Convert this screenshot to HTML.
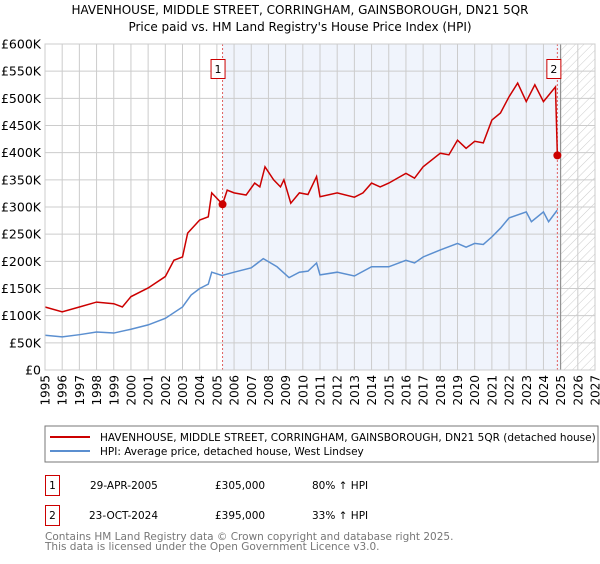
<!DOCTYPE html>
<html><head><meta charset="utf-8"><style>
body{margin:0;background:#fff;font-family:"DejaVu Sans","Liberation Sans",sans-serif}
svg text{font-family:"DejaVu Sans","Liberation Sans",sans-serif}
</style></head><body>
<svg id="c" width="600" height="560" xmlns="http://www.w3.org/2000/svg">
<defs><pattern id="hatch" width="6" height="6" patternUnits="userSpaceOnUse" patternTransform="rotate(45)"><line x1="0" y1="0" x2="0" y2="6" stroke="#ccc" stroke-width="1"/></pattern></defs>
<text x="300" y="14" text-anchor="middle" font-size="12">HAVENHOUSE, MIDDLE STREET, CORRINGHAM, GAINSBOROUGH, DN21 5QR</text>
<text x="300" y="31" text-anchor="middle" font-size="12">Price paid vs. HM Land Registry's House Price Index (HPI)</text>
<g id="plot"></g>
<rect x="45" y="426" width="553" height="36" fill="#fff" stroke="#777"/>
<line x1="50" y1="437" x2="90" y2="437" stroke="#cc0000" stroke-width="2"/>
<text x="100" y="441" font-size="10.5">HAVENHOUSE, MIDDLE STREET, CORRINGHAM, GAINSBOROUGH, DN21 5QR (detached house)</text>
<line x1="50" y1="451" x2="90" y2="451" stroke="#5b8fd0" stroke-width="2"/>
<text x="100" y="455" font-size="10.5">HPI: Average price, detached house, West Lindsey</text>
<g>
<rect x="45.5" y="475.5" width="14" height="20" fill="#fff" stroke="#cc0000"/><text x="52.5" y="489" text-anchor="middle" font-size="10.5">1</text>
<text x="90" y="489" font-size="10.5">29-APR-2005</text><text x="215" y="489" font-size="10.5">£305,000</text><text x="312" y="489" font-size="10.5">80% ↑ HPI</text></g>
<g>
<rect x="45.5" y="505.5" width="14" height="20" fill="#fff" stroke="#cc0000"/><text x="52.5" y="519" text-anchor="middle" font-size="10.5">2</text>
<text x="89" y="519" font-size="10.5">23-OCT-2024</text><text x="215" y="519" font-size="10.5">£395,000</text><text x="312" y="519" font-size="10.5">33% ↑ HPI</text></g>
<text x="45" y="540" font-size="10.5" fill="#777">Contains HM Land Registry data © Crown copyright and database right 2025.</text>
<text x="45" y="550" font-size="10.5" fill="#777">This data is licensed under the Open Government Licence v3.0.</text>
</svg>
<script>
const hpiYears=[1995,1996,1997,1998,1999,2000,2001,2002,2003,2003.5,2004,2004.5,2004.7,2005.3,2006,2007,2007.7,2008.5,2009.2,2009.8,2010.3,2010.8,2011,2012,2013,2014,2015,2016,2016.5,2017,2018,2019,2019.5,2020,2020.5,2021,2021.5,2022,2023,2023.3,2024,2024.3,2024.8];
const hpiValues=[64,61,65,70,68,75,83,95,116,138,150,158,180,174,180,188,205,190,170,180,182,197,175,180,173,190,190,202,197,208,221,233,226,233,231,245,261,280,291,273,291,273,294];
const propYears=[1995,1996,1997,1998,1999,1999.5,2000,2001,2002,2002.5,2003,2003.3,2004,2004.5,2004.7,2005.33,2005.6,2006,2006.7,2007.2,2007.5,2007.8,2008.3,2008.7,2008.9,2009.3,2009.8,2010.3,2010.8,2011,2012,2013,2013.5,2014,2014.5,2015,2016,2016.5,2017,2018,2018.5,2019,2019.5,2020,2020.5,2021,2021.5,2022,2022.5,2023,2023.5,2024,2024.7,2024.81];
const propValues=[116,107,116,125,122,116,135,151,172,202,208,252,276,282,326,305,331,326,322,344,337,374,350,337,350,307,326,323,356,319,326,318,326,344,337,344,362,353,374,399,396,423,408,421,418,460,473,503,528,494,525,494,521,395];
const saleYears=[2005.33,2024.81];
const saleValues=[305,395];
const yTicks=[0,50,100,150,200,250,300,350,400,450,500,550,600];
const yTickLabels=["£0","£50K","£100K","£150K","£200K","£250K","£300K","£350K","£400K","£450K","£500K","£550K","£600K"];
const xTicks=[1995,1996,1997,1998,1999,2000,2001,2002,2003,2004,2005,2006,2007,2008,2009,2010,2011,2012,2013,2014,2015,2016,2017,2018,2019,2020,2021,2022,2023,2024,2025,2026,2027];

const L=45,R=595,T=44,B=370;
const x=v=>L+(v-1995)/(2027-1995)*(R-L);
const y=v=>B-v/600*(B-T);
const NS="http://www.w3.org/2000/svg";
const g=document.getElementById('plot');
function mk(tag,attrs,parent){const e=document.createElementNS(NS,tag);for(const k in attrs)e.setAttribute(k,attrs[k]);(parent||g).appendChild(e);return e;}
let e;
e=mk('rect',{x:x(saleYears[0]),y:T,width:x(2025)-x(saleYears[0]),height:B-T,fill:'#f0f4fc'});


e=mk('rect',{x:x(2025),y:T,width:R-x(2025),height:B-T,fill:'url(#hatch)'});


xTicks.forEach((t,i)=>{
  e=mk('line',{x1:x(t),x2:x(t),y1:T,y2:B,stroke:'#ccc','stroke-width':1});
  
  
  e=mk('text',{x:0,y:0,'font-size':12,'text-anchor':'end',transform:`translate(${x(t)+4.5},${B+5}) rotate(-90)`});
  e.textContent=t;
  
  
});
yTicks.forEach((t,i)=>{
  e=mk('line',{x1:L,x2:R,y1:y(t),y2:y(t),stroke:'#ccc','stroke-width':1});
  
  
  e=mk('text',{x:L-4,y:y(t)+4.5,'font-size':12.5,'text-anchor':'end'});
  e.textContent=yTickLabels[i];
  
  
});
e=mk('line',{x1:x(2025),x2:x(2025),y1:T,y2:B,stroke:'#888','stroke-width':1});


saleYears.forEach((s,i)=>{
  e=mk('line',{x1:x(s),x2:x(s),y1:T,y2:B,stroke:'#e06060','stroke-width':1,'stroke-dasharray':'2,2'});
  
  
});
e=mk('polyline',{points:hpiYears.map((v,i)=>x(v)+','+y(hpiValues[i])).join(' '),fill:'none',stroke:'#5b8fd0','stroke-width':1.5});


e=mk('polyline',{points:propYears.map((v,i)=>x(v)+','+y(propValues[i])).join(' '),fill:'none',stroke:'#cc0000','stroke-width':1.5});


saleYears.forEach((s,i)=>{
  e=mk('circle',{cx:x(s),cy:y(saleValues[i]),r:4,fill:'#cc0000'});
  
  
  const bx=x(s)-(i==0?11:10);
  e=mk('rect',{x:bx-0.5,y:T+15.5,width:14,height:19,fill:'#fff',stroke:'#cc0000'});
  
  
  e=mk('text',{x:bx+6.5,y:T+29,'font-size':11,'text-anchor':'middle'});
  e.textContent=String(i+1);
  
  
});
e=mk('rect',{x:L,y:T,width:R-L,height:B-T,fill:'none',stroke:'#ccc'});


</script>
</body></html>
